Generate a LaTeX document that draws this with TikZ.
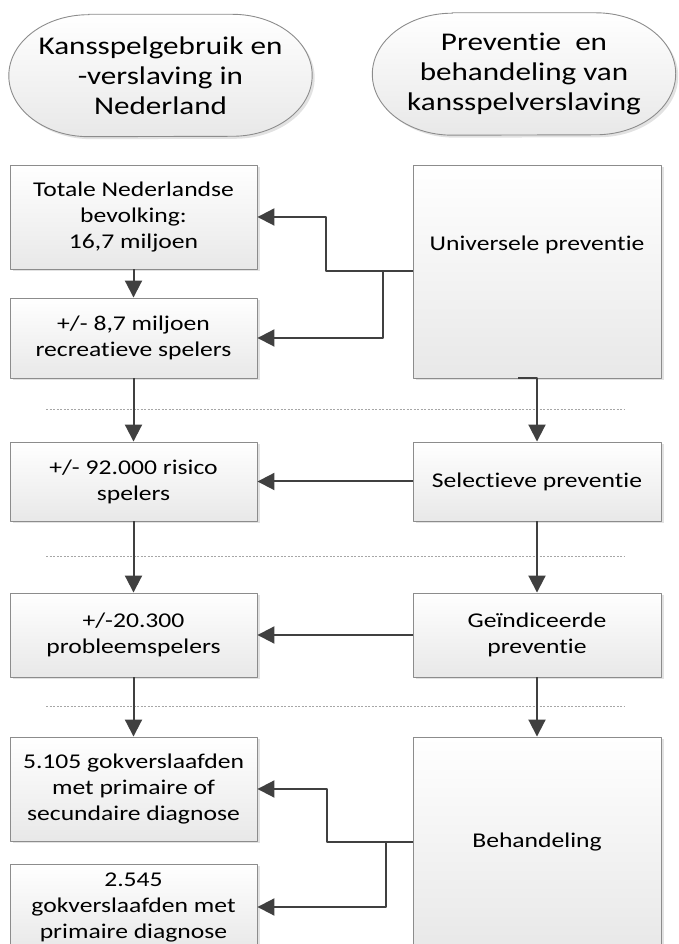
\documentclass[tikz,border=0pt]{standalone}
\usepackage{fontspec}
\setmainfont[FakeStretch=1.22, Ligatures={NoCommon,NoContextual,NoRequired}, RawFeature=-calt]{Carlito}
\usetikzlibrary{arrows.meta,shadows,backgrounds}
\definecolor{pijl}{HTML}{404040}
\definecolor{rand}{HTML}{8C8C8C}
\tikzset{
  blok/.style={draw=rand, line width=0.9pt, top color=white, bottom color=black!9,
    drop shadow={shadow xshift=2.5pt, shadow yshift=-2.5pt, fill=black!14, opacity=0.8},
    align=center, inner sep=0pt, minimum width=247pt, font=\fontsize{21}{26}\selectfont},
  term/.style={align=center, inner sep=0pt, minimum width=303pt, minimum height=122pt,
    font=\fontsize{25.5}{30}\selectfont},
  termrand/.style={draw=rand, line width=0.9pt, top color=white, bottom color=black!9,
    drop shadow={shadow xshift=2.5pt, shadow yshift=-2.5pt, fill=black!14, opacity=0.8}},
  verbinding/.style={draw=pijl, line width=2pt, ->},
  scheiding/.style={draw=black!35, line width=0.8pt, dash pattern=on 2pt off 1.5pt}
}
\begin{document}
\begin{tikzpicture}[x=1pt, y=1pt, line join=round, >={Triangle[length=17pt,width=17pt]}]
\useasboundingbox (0,0) rectangle (678,944);
% kopjes
\node[term] (kans) at (160.5,868.5) {Kansspelgebruik en\\-verslaving in\\Nederland};
\node[term] (prev) at (524,870) {Preventie~ en\\behandeling van\\kansspelverslaving};
\begin{scope}[on background layer]
\foreach \t in {kans,prev}
  \draw[termrand] ([xshift=80pt]\t.north west) -- ([xshift=-80pt]\t.north east)
    arc[start angle=90, end angle=-90, x radius=80pt, y radius=61pt]
    -- ([xshift=80pt]\t.south west)
    arc[start angle=270, end angle=90, x radius=80pt, y radius=61pt] -- cycle;
\end{scope}
% scheidingslijnen
\foreach \y in {535,388,238}
  \draw[scheiding] (46,\y) -- (624,\y);
% linker kolom
\node[blok, minimum height=104pt] (tot) at (133.5,727) {Totale Nederlandse\\bevolking:\\16,7 miljoen};
\node[blok, minimum height=80pt] (recr) at (133.5,606) {+/- 8,7 miljoen\\recreatieve spelers};
\node[blok, minimum height=79pt] (risico) at (133.5,462.5) {+/- 92.000 risico\\spelers};
\node[blok, minimum height=84pt] (prob) at (133.5,309) {+/-20.300\\probleemspelers};
\node[blok, minimum height=104pt] (diag1) at (133.5,155) {5.105 gokverslaafden\\met primaire of\\secundaire diagnose};
\node[blok, minimum height=86pt] (diag2) at (133.5,37) {2.545\\gokverslaafden met\\primaire diagnose};
% rechter kolom
\node[blok, minimum width=248pt, minimum height=213pt] (univ) at (537,672.5) {};
\node[font=\fontsize{21}{26}\selectfont, inner sep=0pt] (univtekst) at ([yshift=26.5pt]univ.center) {Universele preventie};
\node[blok, minimum width=248pt, minimum height=79pt] (sel) at (537,462.5) {Selectieve preventie};
\node[blok, minimum width=248pt, minimum height=84pt] (ind) at (537,309) {Geïndiceerde\\preventie};
\node[blok, minimum width=248pt, minimum height=211pt] (beh) at (537,101.5) {Behandeling};
% pijlen
\draw[verbinding] (tot) -- (recr);
\draw[verbinding] (recr) -- (risico);
\draw[verbinding] (risico) -- (prob);
\draw[verbinding] (prob) -- (diag1);
\draw[verbinding] ([xshift=-19pt]univ.south) -| (sel.north);
\draw[verbinding] (sel) -- (ind);
\draw[verbinding] (ind) -- (beh);
\draw[verbinding] (univ.west) -- ++(-87,0) |- (tot.east);
\draw[verbinding] ([xshift=-30pt]univ.west) |- (recr.east);
\draw[verbinding] (sel) -- (risico);
\draw[verbinding] (ind) -- (prob);
\draw[verbinding] (beh.west) -- ++(-86,0) |- (diag1.east);
\draw[verbinding] ([xshift=-27pt]beh.west) |- (diag2.east);
\end{tikzpicture}
\end{document}
